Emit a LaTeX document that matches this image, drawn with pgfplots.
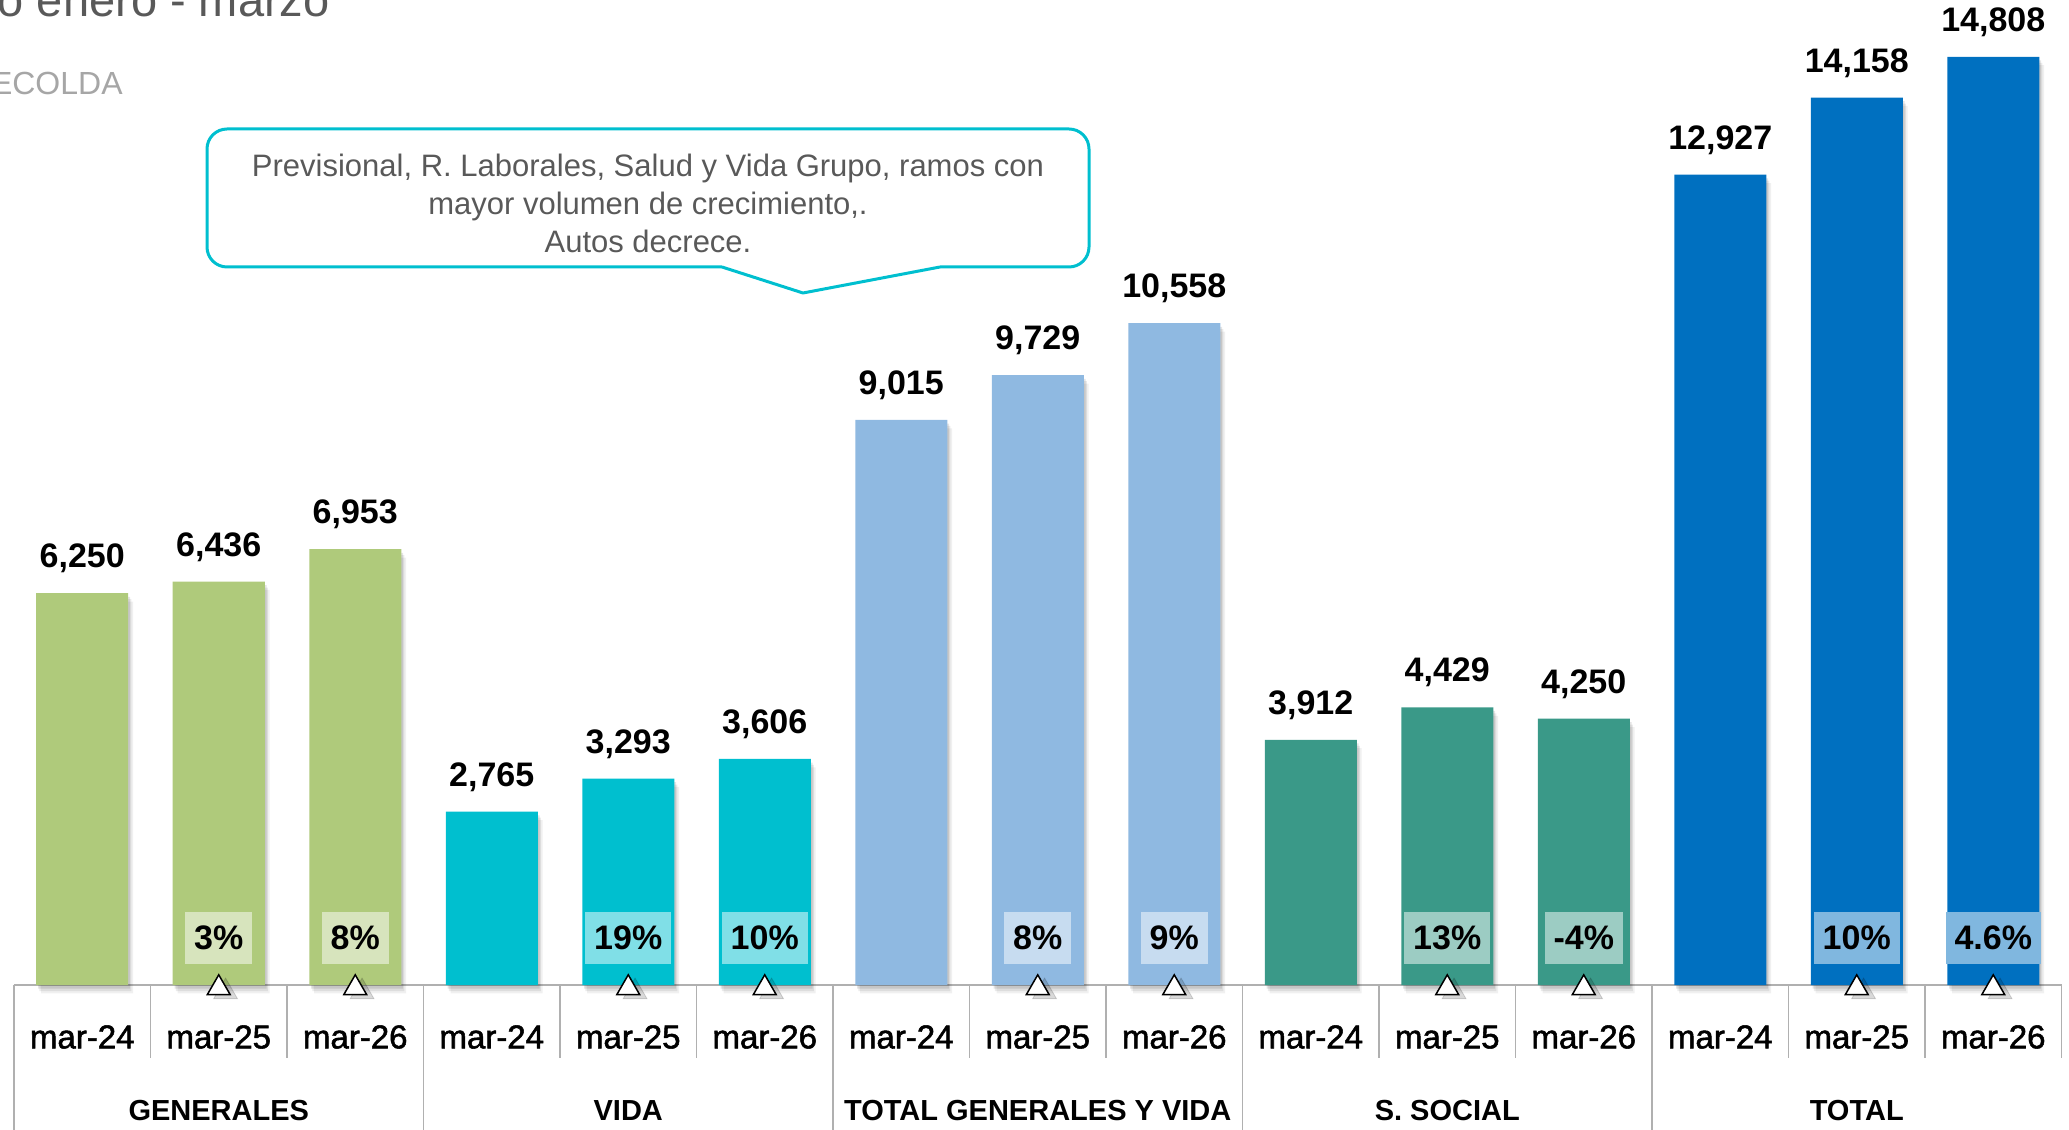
\documentclass[border=0pt]{standalone}
\usepackage{fontspec}
\setmainfont{Liberation Sans}
\newfontfamily\medfont[FakeBold=1.6]{Liberation Sans}
\usepackage{pgfplots}
\pgfplotsset{compat=1.18}
\definecolor{cG}{HTML}{AFCA7B}
\definecolor{cV}{HTML}{00BFCF}
\definecolor{cT}{HTML}{8FB9E1}
\definecolor{cS}{HTML}{3A9988}
\definecolor{cB}{HTML}{0070C0}
\definecolor{txtgray}{HTML}{595959}
\definecolor{srcgray}{HTML}{A6A6A6}
\definecolor{linegray}{HTML}{B0B0B0}
\tikzset{
  barshadow/.style={
    preaction={fill=black, opacity=0.06, transform canvas={xshift=2.4pt, yshift=-4.2pt}},
    preaction={fill=black, opacity=0.08, transform canvas={xshift=1.6pt, yshift=-3pt}},
    preaction={fill=black, opacity=0.10, transform canvas={xshift=0.9pt, yshift=-1.8pt}},
  }
}
\pgfplotsset{
  valbar/.style={ybar, bar width=46pt, bar shift=0pt, draw=none, fill=#1, barshadow,
    nodes near coords,
    every node near coord/.append style={anchor=south, inner sep=0pt, text depth=0pt, yshift=12.5pt,
      font=\bfseries\fontsize{17}{20}\selectfont, text=black}},
  pctbox/.style={only marks, mark=none, nodes near coords={\pgfplotspointmeta\%},
    point meta=explicit symbolic,
    every node near coord/.append style={anchor=south, fill=#1, inner xsep=4.5pt, inner ysep=0pt,
      minimum height=26pt, text height=12.2pt, text depth=0pt,
      font=\bfseries\fontsize{17}{20}\selectfont, text=black}},
}
\begin{document}
\begin{tikzpicture}
\begin{axis}[
  at={(0,0)}, anchor=origin,
  x=68.25pt, y=0.031335pt,
  xmin=0, xmax=15, ymin=0, ymax=15717,
  clip=false,
  axis line style={draw=none}, tick style={draw=none},
  ytick=\empty,
  xtick={0.5,1.5,2.5,3.5,4.5,5.5,6.5,7.5,8.5,9.5,10.5,11.5,12.5,13.5,14.5},
  xticklabels={mar-24,mar-25,mar-26,mar-24,mar-25,mar-26,mar-24,mar-25,mar-26,mar-24,mar-25,mar-26,mar-24,mar-25,mar-26},
  xticklabel style={anchor=center, yshift=-26pt, font=\medfont\fontsize{16.5}{18}\selectfont, text=black},
  /pgf/number format/1000 sep={,},
  /pgf/number format/assume math mode=true,
]
% separators
\draw[linegray, line width=0.8pt] (axis cs:0,0) -- (axis cs:15,0);
\foreach \xx in {1,2,4,5,7,8,10,11,13,14,15} {
  \edef\tmp{\noexpand\draw[linegray, line width=0.8pt] (axis cs:\xx,0) -- (axis cs:\xx,-1165);}\tmp
}
\foreach \xx in {0,3,6,9,12} {
  \edef\tmp{\noexpand\draw[linegray, line width=0.8pt] (axis cs:\xx,0) -- (axis cs:\xx,-2500);}\tmp
}
% bars
\addplot[valbar=cG] coordinates {(0.5,6250) (1.5,6436) (2.5,6953)};
\addplot[valbar=cV] coordinates {(3.5,2765) (4.5,3293) (5.5,3606)};
\addplot[valbar=cT] coordinates {(6.5,9015) (7.5,9729) (8.5,10558)};
\addplot[valbar=cS] coordinates {(9.5,3912) (10.5,4429) (11.5,4250)};
\addplot[valbar=cB] coordinates {(12.5,12927) (13.5,14158) (14.5,14808)};
% growth boxes
\addplot[pctbox=cG!50!white] table[meta=p] {
x y p
1.5 335 3
2.5 335 8
};
\addplot[pctbox=cV!50!white] table[meta=p] {
x y p
4.5 335 19
5.5 335 10
};
\addplot[pctbox=cT!50!white] table[meta=p] {
x y p
7.5 335 8
8.5 335 9
};
\addplot[pctbox=cS!50!white] table[meta=p] {
x y p
10.5 335 13
11.5 335 -4
};
\addplot[pctbox=cB!50!white] table[meta=p] {
x y p
13.5 335 10
14.5 335 4.6
};
% triangle shadows
\addplot[only marks, mark=triangle*, mark size=6.9pt, mark options={fill=black, draw=none, opacity=0.15}]
 coordinates {(1.55,-110) (2.55,-110) (4.55,-110) (5.55,-110) (7.55,-110) (8.55,-110) (10.55,-110) (11.55,-110) (13.55,-110) (14.55,-110)};
% triangles
\addplot[only marks, mark=triangle*, mark size=6.6pt, mark options={fill=white, draw=black, line width=0.75pt}]
 coordinates {(1.5,-48) (2.5,-48) (4.5,-48) (5.5,-48) (7.5,-48) (8.5,-48) (10.5,-48) (11.5,-48) (13.5,-48) (14.5,-48)};
% group labels
\node[font=\bfseries\fontsize{14.5}{16}\selectfont] at (axis cs:1.5,-1995) {GENERALES};
\node[font=\bfseries\fontsize{14.5}{16}\selectfont] at (axis cs:4.5,-1995) {VIDA};
\node[font=\bfseries\fontsize{14.5}{16}\selectfont] at (axis cs:7.5,-1995) {TOTAL GENERALES Y VIDA};
\node[font=\bfseries\fontsize{14.5}{16}\selectfont] at (axis cs:10.5,-1995) {S. SOCIAL};
\node[font=\bfseries\fontsize{14.5}{16}\selectfont] at (axis cs:13.5,-1995) {TOTAL};
\end{axis}
\begin{scope}[x=0.5pt,y=-0.5pt,shift={(-7pt,492.5pt)}]
\draw[cV, line width=1.5pt, rounded corners=10pt] (722,267) -- (207,267) -- (207,129) -- (1089,129) -- (1089,267) -- (940,267);
\draw[cV, line width=1.5pt, line join=round] (722,267) -- (803,293) -- (940,267);
\node[text=txtgray, font=\fontsize{15.5}{19}\selectfont, align=center] at (648,203)
  {Previsional, R. Laborales, Salud y Vida Grupo, ramos con\\mayor volumen de crecimiento,.\\Autos decrece.};
\node[anchor=base east, text=txtgray, font=\fontsize{23.5}{28}\selectfont, inner sep=0pt] at (330,17) {Acumulado enero - marzo};
\node[anchor=base east, text=srcgray, font=\fontsize{16}{19}\selectfont, inner sep=0pt] at (123,95) {Fuente: FASECOLDA};
\pgfresetboundingbox
\path[use as bounding box] (0,0) rectangle (2069,1130);
\end{scope}
\end{tikzpicture}
\end{document}
